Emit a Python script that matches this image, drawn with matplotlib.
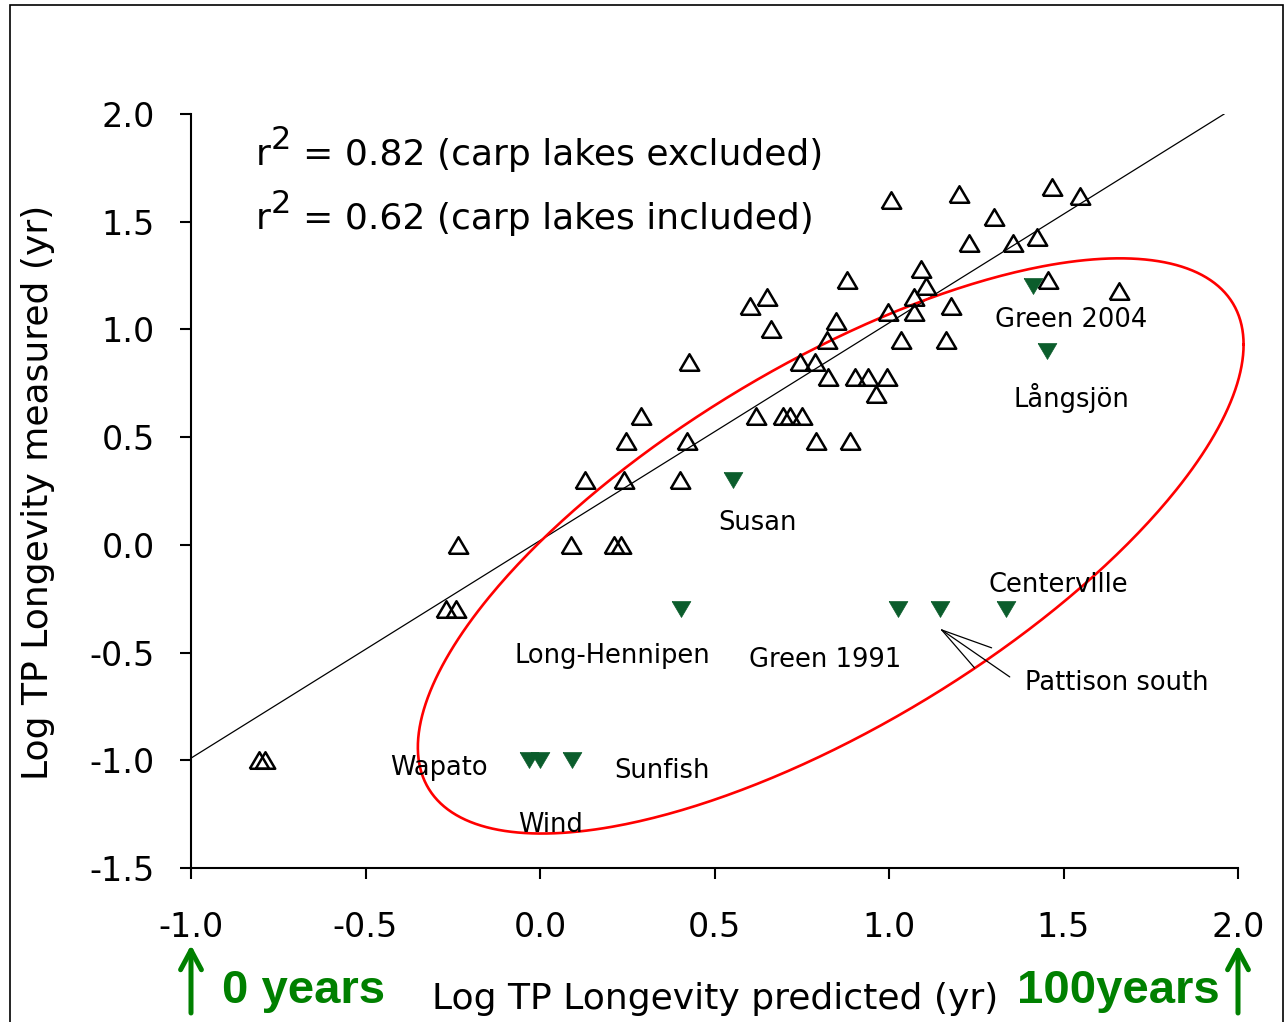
"""
TP longevity: predicted vs measured (log scale), carp lakes highlighted
"""
import matplotlib
matplotlib.use('Agg')
import matplotlib.pyplot as plt
from matplotlib.patches import Rectangle
import numpy as np

# Lakes without carp (open triangles)
lake_pred = [-0.805, -0.788, -0.269, -0.240, -0.234, 0.090, 0.130, 0.213, 0.233,
             0.242, 0.247, 0.290, 0.402, 0.420, 0.428, 0.603, 0.620, 0.649, 0.663,
             0.695, 0.715, 0.752, 0.744, 0.787, 0.792, 0.824, 0.821, 0.847, 0.881,
             0.904, 0.939, 0.993, 0.964, 0.887, 1.007, 0.996, 1.033, 1.091, 1.105,
             1.073, 1.073, 1.162, 1.177, 1.200, 1.300, 1.228, 1.354, 1.466, 1.547,
             1.423, 1.455, 1.658]
lake_meas = [-1.00, -1.00, -0.30, -0.30, 0.00, 0.00, 0.30, 0.00, 0.00,
             0.30, 0.48, 0.60, 0.30, 0.48, 0.85, 1.11, 0.60, 1.15, 1.00,
             0.60, 0.60, 0.60, 0.85, 0.85, 0.48, 0.78, 0.95, 1.04, 1.23,
             0.78, 0.78, 0.78, 0.70, 0.48, 1.60, 1.08, 0.95, 1.28, 1.20,
             1.15, 1.08, 0.95, 1.11, 1.63, 1.52, 1.40, 1.40, 1.66, 1.62,
             1.43, 1.23, 1.18]

# Carp lakes (filled triangles) and their labels
carp_names = ['Green 2004', 'Långsjön', 'Susan', 'Long-Hennipen', 'Green 1991',
              'Pattison south', 'Centerville', 'Wapato', 'Wind', 'Sunfish']
carp_pred = [1.412, 1.452, 0.552, 0.405, 1.025, 1.145, 1.334, -0.031, 0.001, 0.093]
carp_meas = [1.20, 0.90, 0.30, -0.30, -0.30, -0.30, -0.30, -1.00, -1.00, -1.00]
carp_label_xy = [(1.303, 1.012), (1.357, 0.641), (0.511, 0.070), (-0.074, -0.548),
                 (0.600, -0.567), (1.389, -0.673), (1.286, -0.218), (-0.429, -1.068),
                 (-0.062, -1.332), (0.213, -1.081)]

# regression line (carp lakes excluded)
fit_slope = 1.01
fit_icept = 0.02
fit_x = [-1.0, 1.96]

# fit statistics shown top left
r2_values = ['0.82', '0.62']
r2_notes = ['carp lakes excluded', 'carp lakes included']
r2_y = [1.764, 1.467]

# ellipse around the carp lakes: centre, half-extents, phase
ell_cx, ell_cy = 0.833, -0.005
ell_ax, ell_ay = 1.183, 1.335
ell_phase = np.arccos(0.70)

x_ticks = [-1.0, -0.5, 0.0, 0.5, 1.0, 1.5, 2.0]
y_ticks = [-1.5, -1.0, -0.5, 0.0, 0.5, 1.0, 1.5, 2.0]

DARK_GREEN = '#0b5d2c'
LABEL_GREEN = '#008000'


def main():
    plt.rcParams['font.family'] = ['DejaVu Sans']
    plt.rcParams['axes.unicode_minus'] = False

    fig = plt.figure(figsize=(12.85, 10.22), dpi=100)
    ax = fig.add_axes([191 / 1285, 1 - 868 / 1022, 1047 / 1285, 754 / 1022])

    # outer frame
    fig.patches.append(Rectangle((10 / 1285, -0.05), 1273 / 1285, 1.05 - 5 / 1022,
                                 transform=fig.transFigure, fill=False,
                                 edgecolor='black', lw=1.2))

    up_tri = [(-1, -0.85), (1, -0.85), (0, 0.85), (-1, -0.85)]
    down_tri = [(-1, 0.85), (1, 0.85), (0, -0.85), (-1, 0.85)]

    xs = np.array(fit_x)
    ax.plot(xs, fit_slope * xs + fit_icept, color='black', lw=0.9, zorder=2)

    t = np.linspace(0, 2 * np.pi, 500)
    ax.plot(ell_cx + ell_ax * np.cos(t), ell_cy + ell_ay * np.cos(t + ell_phase),
            color='red', lw=1.9, zorder=3, clip_on=False)

    ax.plot(lake_pred, lake_meas, linestyle='none', marker=up_tri, markersize=14,
            markerfacecolor='none', markeredgecolor='black', markeredgewidth=1.8,
            zorder=4)
    ax.plot(carp_pred, carp_meas, linestyle='none', marker=down_tri, markersize=13.5,
            markerfacecolor=DARK_GREEN, markeredgecolor=DARK_GREEN,
            markeredgewidth=0.5, zorder=4)

    for name, (tx, ty) in zip(carp_names, carp_label_xy):
        ax.text(tx, ty, name, fontsize=18.5, ha='left', va='baseline', zorder=5)

    # pointer lines for Pattison south
    for end in [(1.294, -0.478), (1.346, -0.613), (1.245, -0.571)]:
        ax.annotate('', xy=(1.151, -0.395), xytext=end,
                    arrowprops=dict(arrowstyle='-', lw=0.9, color='black',
                                    shrinkA=0, shrinkB=0))

    # r^2 lines: the superscript is drawn as its own text so it can stay large
    for val, note, ty in zip(r2_values, r2_notes, r2_y):
        ax.text(-0.814, ty, 'r', fontsize=26, ha='left', va='baseline')
        ax.annotate('2', xy=(-0.814, ty), xytext=(15, 16), textcoords='offset pixels',
                    fontsize=23, ha='left', va='baseline')
        ax.annotate(f'= {val} ({note})', xy=(-0.814, ty), xytext=(47, 0),
                    textcoords='offset pixels', fontsize=26, ha='left', va='baseline')

    ax.set_xlim(-1.0, 2.0)
    ax.set_ylim(-1.5, 2.0)
    ax.set_xticks(x_ticks)
    ax.set_yticks(y_ticks)
    ax.set_xticklabels([f'{v:.1f}' for v in x_ticks])
    ax.set_yticklabels([f'{v:.1f}' for v in y_ticks])
    for side in ['top', 'right']:
        ax.spines[side].set_visible(False)
    for side in ['left', 'bottom']:
        ax.spines[side].set_linewidth(1.5)
    ax.tick_params(axis='x', direction='out', length=8, width=1.5, pad=23, labelsize=24)
    ax.tick_params(axis='y', direction='out', length=8, width=1.5, pad=18, labelsize=24)

    fig.text(715 / 1285, 1 - 1009 / 1022, 'Log TP Longevity predicted (yr)', fontsize=26,
             ha='center', va='baseline')
    fig.text(38 / 1285, 1 - 492 / 1022, 'Log TP Longevity measured (yr)', fontsize=26,
             ha='center', va='center', rotation=90)

    # year markers under the axis ends
    for xv in [-1.0, 2.0]:
        ax.annotate('', xy=(xv, 1 - 945 / 1022), xytext=(xv, 1 - 1013 / 1022),
                    xycoords=('data', 'figure fraction'),
                    textcoords=('data', 'figure fraction'),
                    annotation_clip=False,
                    arrowprops=dict(arrowstyle='->,head_length=1.4,head_width=0.75',
                                    lw=3.6, color=LABEL_GREEN, shrinkA=0, shrinkB=0,
                                    capstyle='round', joinstyle='round'))
    fig.text(222 / 1285, 1 - 1003 / 1022, '0 years', fontsize=34, fontweight='bold',
             family=['Liberation Sans', 'DejaVu Sans'], color=LABEL_GREEN,
             ha='left', va='baseline')
    fig.text(1220 / 1285, 1 - 1003 / 1022, '100years', fontsize=34, fontweight='bold',
             family=['Liberation Sans', 'DejaVu Sans'], color=LABEL_GREEN,
             ha='right', va='baseline')

    fig.savefig('out.png', dpi=100)


if __name__ == '__main__':
    main()
